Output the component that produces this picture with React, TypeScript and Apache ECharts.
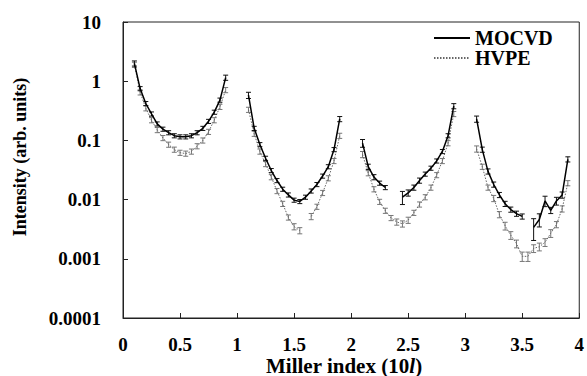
import React, { useEffect, useRef } from "react";
import * as echarts from "echarts";

// Miller index positions (four segments separated by a break at integer l)
const millerIndex = [
  0.1, 0.15, 0.2, 0.25, 0.3, 0.35, 0.4, 0.45, 0.5, 0.55, 0.6, 0.65, 0.7, 0.75, 0.8, 0.85, 0.9,
  1.0,
  1.1, 1.15, 1.2, 1.25, 1.3, 1.35, 1.4, 1.45, 1.5, 1.55, 1.6, 1.65, 1.7, 1.75, 1.8, 1.85, 1.9,
  2.0,
  2.1, 2.15, 2.2, 2.25, 2.3, 2.35, 2.4, 2.45, 2.5, 2.55, 2.6, 2.65, 2.7, 2.75, 2.8, 2.85, 2.9,
  3.0,
  3.1, 3.15, 3.2, 3.25, 3.3, 3.35, 3.4, 3.45, 3.5, 3.55, 3.6, 3.65, 3.7, 3.75, 3.8, 3.85, 3.9,
];

const mocvdSeg1 = [2.0, 0.75, 0.42, 0.28, 0.19, 0.155, 0.135, 0.12, 0.115, 0.115, 0.12, 0.135, 0.16, 0.21, 0.3, 0.48, 1.15];
const mocvdSeg2 = [0.58, 0.16, 0.085, 0.05, 0.031, 0.021, 0.015, 0.012, 0.0098, 0.0093, 0.011, 0.014, 0.018, 0.025, 0.036, 0.07, 0.23];
const mocvdSeg3 = [0.09, 0.036, 0.024, 0.019, 0.016, null, null, 0.011, 0.013, 0.016, 0.021, 0.027, 0.034, 0.045, 0.065, 0.12, 0.38];
const mocvdSeg4 = [0.23, 0.07, 0.03, 0.018, 0.012, 0.0085, 0.0068, 0.0058, 0.0052, null, 0.0034, 0.0046, 0.0095, 0.0066, 0.0095, 0.012, 0.048];

const hvpeSeg1 = [1.9, 0.65, 0.35, 0.22, 0.15, 0.11, 0.085, 0.07, 0.062, 0.06, 0.065, 0.08, 0.1, 0.14, 0.22, 0.37, 0.71];
const hvpeSeg2 = [0.33, 0.13, 0.065, 0.04, 0.024, 0.014, 0.0085, 0.005, 0.0035, 0.003, null, 0.0052, 0.0076, 0.013, 0.023, 0.045, 0.12];
const hvpeSeg3 = [0.058, 0.028, 0.015, 0.0092, 0.0065, 0.0049, 0.0042, 0.0039, 0.0045, 0.006, 0.0083, 0.011, 0.016, 0.026, 0.045, 0.09, 0.28];
const hvpeSeg4 = [0.072, 0.036, 0.016, 0.0105, 0.0056, 0.0036, 0.0025, 0.0018, 0.0011, 0.0011, 0.0015, 0.0016, 0.0019, 0.0027, 0.0038, 0.007, 0.019];

// relative uncertainties (error bars)
const mocvdErrSeg1 = [0.1, 0.08, 0.08, 0.08, 0.08, 0.08, 0.08, 0.08, 0.08, 0.08, 0.08, 0.08, 0.08, 0.08, 0.08, 0.08, 0.1];
const mocvdErrSeg2 = [0.12, 0.08, 0.08, 0.08, 0.08, 0.08, 0.08, 0.08, 0.08, 0.08, 0.08, 0.08, 0.08, 0.08, 0.08, 0.08, 0.1];
const mocvdErrSeg3 = [0.15, 0.1, 0.1, 0.08, 0.08, 0, 0, 0.25, 0.12, 0.1, 0.1, 0.08, 0.08, 0.08, 0.08, 0.08, 0.1];
const mocvdErrSeg4 = [0.12, 0.1, 0.1, 0.1, 0.1, 0.1, 0.1, 0.1, 0.1, 0, 0.4, 0.25, 0.2, 0.12, 0.15, 0.12, 0.1];

const hvpeErrSeg1 = [0.1, 0.1, 0.1, 0.1, 0.1, 0.1, 0.1, 0.1, 0.1, 0.1, 0.1, 0.1, 0.1, 0.1, 0.1, 0.1, 0.1];
const hvpeErrSeg2 = [0.1, 0.1, 0.1, 0.1, 0.1, 0.1, 0.1, 0.1, 0.12, 0.12, 0, 0.12, 0.1, 0.1, 0.1, 0.1, 0.1];
const hvpeErrSeg3 = [0.12, 0.1, 0.1, 0.1, 0.1, 0.1, 0.12, 0.12, 0.12, 0.1, 0.1, 0.1, 0.1, 0.1, 0.1, 0.1, 0.1];
const hvpeErrSeg4 = [0.12, 0.1, 0.1, 0.12, 0.12, 0.15, 0.15, 0.15, 0.18, 0.18, 0.15, 0.15, 0.15, 0.15, 0.12, 0.12, 0.1];

const yTicks = [0.0001, 0.001, 0.01, 0.1, 1, 10];
const xTickStep = 0.5;

const mocvd = [...mocvdSeg1, null, ...mocvdSeg2, null, ...mocvdSeg3, null, ...mocvdSeg4];
const hvpe = [...hvpeSeg1, null, ...hvpeSeg2, null, ...hvpeSeg3, null, ...hvpeSeg4];
const mocvdErr = [...mocvdErrSeg1, 0, ...mocvdErrSeg2, 0, ...mocvdErrSeg3, 0, ...mocvdErrSeg4];
const hvpeErr = [...hvpeErrSeg1, 0, ...hvpeErrSeg2, 0, ...hvpeErrSeg3, 0, ...hvpeErrSeg4];

const FONT = "'Liberation Serif', 'Times New Roman', serif";

function lineData(vals: (number | null)[]) {
  return millerIndex.map((x, i) => [x, vals[i] == null ? null : vals[i]]);
}
function errData(vals: (number | null)[], errs: number[]) {
  const out: number[][] = [];
  millerIndex.forEach((x, i) => {
    const v = vals[i];
    if (v == null) return;
    const e = errs[i];
    out.push([x, v * (1 - e), v * (1 + e)]);
  });
  return out;
}

function errRender(color: string) {
  return (params: any, api: any) => {
    const x = api.value(0);
    const lo = api.value(1);
    const hi = api.value(2);
    const p1 = api.coord([x, hi]);
    const p2 = api.coord([x, lo]);
    const w = 2.5;
    const style = { stroke: color, lineWidth: 1 };
    return {
      type: "group",
      children: [
        { type: "line", shape: { x1: p1[0], y1: p1[1], x2: p2[0], y2: p2[1] }, style },
        { type: "line", shape: { x1: p1[0] - w, y1: p1[1], x2: p1[0] + w, y2: p1[1] }, style },
        { type: "line", shape: { x1: p2[0] - w, y1: p2[1], x2: p2[0] + w, y2: p2[1] }, style },
      ],
    };
  };
}

export default function App() {
  const ref = useRef<HTMLDivElement>(null);
  useEffect(() => {
    if (!ref.current) return;
    const chart = echarts.init(ref.current, undefined, { renderer: "svg" });
    const legendText = { fontFamily: FONT, fontWeight: "bold", fontSize: 20, lineHeight: 18, color: "#000" };
    chart.setOption({
      animation: false,
      backgroundColor: "#fff",
      grid: { left: 123, right: 6, top: 22, bottom: 58, show: true, borderColor: "#222", borderWidth: 1 },
      legend: [
        {
          data: ["MOCVD"], left: 433, top: 28, itemWidth: 36, itemHeight: 12, selectedMode: false,
          padding: 0, itemStyle: { opacity: 0 }, textStyle: legendText,
        },
        {
          data: ["HVPE"], left: 433, top: 48, itemWidth: 36, itemHeight: 12, selectedMode: false,
          padding: 0, itemStyle: { opacity: 0 }, textStyle: legendText,
        },
      ],
      xAxis: {
        type: "value", min: 0, max: 4, interval: xTickStep,
        axisLine: { lineStyle: { color: "#222", width: 1 } },
        axisTick: { inside: true, length: 5, lineStyle: { color: "#222" } },
        splitLine: { show: false },
        axisLabel: {
          margin: 17, color: "#000", fontFamily: FONT, fontWeight: "bold", fontSize: 19,
          lineHeight: 19,
          formatter: (v: number) => String(v),
        },
      },
      yAxis: {
        type: "log", logBase: 10, min: yTicks[0], max: yTicks[yTicks.length - 1],
        axisLine: { lineStyle: { color: "#222", width: 1 } },
        axisTick: { inside: true, length: 5, lineStyle: { color: "#222" } },
        minorTick: { show: false },
        splitLine: { show: false },
        axisLabel: {
          margin: 22, color: "#000", fontFamily: FONT, fontWeight: "bold", fontSize: 19,
          formatter: (v: number) => String(Number(v.toPrecision(1))),
        },
      },
      graphic: [
        {
          type: "text", x: 20, y: 157, rotation: Math.PI / 2,
          style: {
            text: "Intensity (arb. units)", fill: "#000", font: `bold 18px ${FONT}`,
            textAlign: "center", textVerticalAlign: "middle",
          },
        },
        {
          type: "text", x: 344, y: 365.5,
          style: {
            text: "{b|Miller index (10}{i|l}{b|)}", textAlign: "center", textVerticalAlign: "middle",
            rich: {
              b: { fontFamily: FONT, fontWeight: "bold", fontSize: 21, fill: "#000", lineHeight: 20 },
              i: { fontFamily: FONT, fontWeight: "bold", fontStyle: "italic", fontSize: 21, fill: "#000", lineHeight: 20 },
            },
          },
        },
      ],
      series: [
        {
          type: "custom", name: "MOCVD err", renderItem: errRender("#111"),
          data: errData(mocvd, mocvdErr), encode: { x: 0, y: [1, 2] }, z: 3,
        },
        {
          type: "custom", name: "HVPE err", renderItem: errRender("#777"),
          data: errData(hvpe, hvpeErr), encode: { x: 0, y: [1, 2] }, z: 2,
        },
        {
          type: "line", name: "HVPE", data: lineData(hvpe), symbol: "none", connectNulls: false,
          lineStyle: { color: "#666", width: 1, type: [1.5, 1.5] }, itemStyle: { color: "#666" }, z: 2,
        },
        {
          type: "line", name: "MOCVD", data: lineData(mocvd), symbol: "none", connectNulls: false,
          lineStyle: { color: "#000", width: 1.5 }, itemStyle: { color: "#000" }, z: 4,
        },
      ],
    });
    return () => chart.dispose();
  }, []);
  return (
    <div
      ref={ref}
      style={{ position: "fixed", left: 0, top: 0, width: 587, height: 376, background: "#fff" }}
    />
  );
}
